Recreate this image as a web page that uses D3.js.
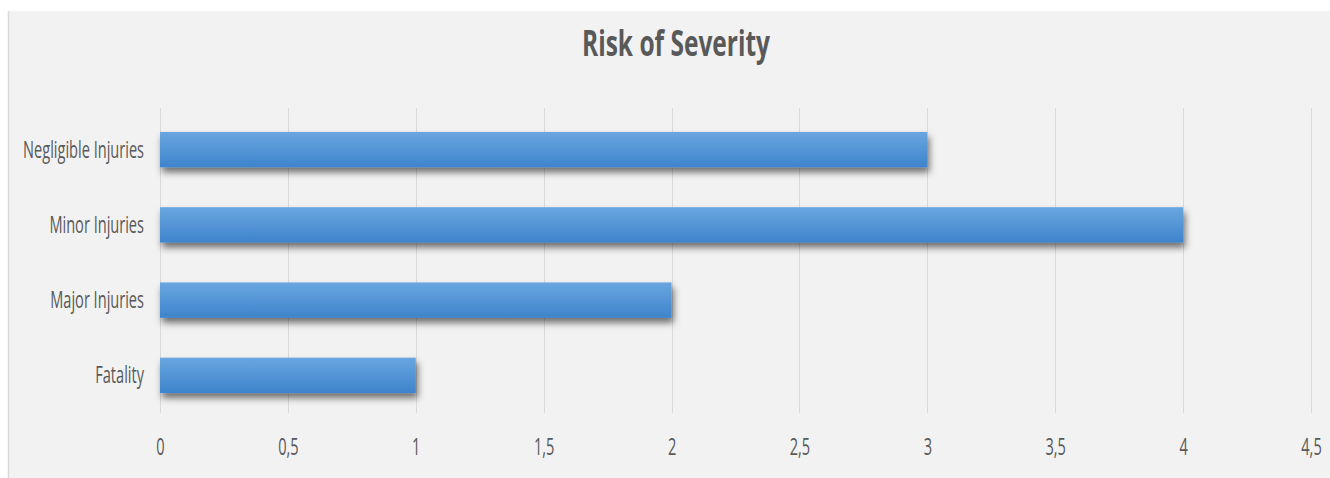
<!DOCTYPE html>
<html>
<head>
<meta charset="utf-8">
<script src="https://cdn.jsdelivr.net/npm/d3@7"></script>
<style>
  html, body { margin: 0; padding: 0; background: #ffffff; }
  svg { display: block; }
</style>
</head>
<body>
<svg id="chart" width="1330" height="478"></svg>
<script>
// ---- data ----
const categories = ["Negligible Injuries", "Minor Injuries", "Major Injuries", "Fatality"];
const values = [3, 4, 2, 1];
const tickValues = [0, 0.5, 1, 1.5, 2, 2.5, 3, 3.5, 4, 4.5];
const tickLabels = ["0", "0,5", "1", "1,5", "2", "2,5", "3", "3,5", "4", "4,5"];
const title = "Risk of Severity";

// ---- layout ----
const W = 1330, H = 478;
const plot = { left: 160, right: 1311, top: 112, bottom: 413 };
const gridTop = 108;
const textColor = "#595959";
const font = "'Open Sans', 'Liberation Sans', sans-serif";

const svg = d3.select("#chart");
const defs = svg.append("defs");

const grad = defs.append("linearGradient")
  .attr("id", "barGrad").attr("x1", 0).attr("y1", 0).attr("x2", 0).attr("y2", 1);
grad.append("stop").attr("offset", "0%").attr("stop-color", "#6aa6e0");
grad.append("stop").attr("offset", "100%").attr("stop-color", "#3e84cc");

const shadow = defs.append("filter").attr("id", "shadow")
  .attr("x", "-5%").attr("y", "-40%").attr("width", "115%").attr("height", "220%");
shadow.append("feDropShadow")
  .attr("dx", 2).attr("dy", 5).attr("stdDeviation", 3.5)
  .attr("flood-color", "#000").attr("flood-opacity", 0.55);

// panel
svg.append("rect")
  .attr("x", 9).attr("y", 11).attr("width", W - 9).attr("height", H - 11)
  .attr("fill", "#f2f2f2");
svg.append("line")
  .attr("x1", 8.5).attr("x2", 8.5).attr("y1", 11).attr("y2", H)
  .attr("stroke", "#dadada").attr("stroke-width", 1.5);

// scales
const x = d3.scaleLinear().domain([0, 4.5]).range([plot.left, plot.right]);
const y = d3.scaleBand().domain(categories)
  .range([plot.top, plot.bottom]).paddingInner(0.53).paddingOuter(0.265);

// gridlines
svg.append("g").selectAll("line").data(tickValues).join("line")
  .attr("x1", d => Math.round(x(d)) + 0.5).attr("x2", d => Math.round(x(d)) + 0.5)
  .attr("y1", gridTop).attr("y2", plot.bottom)
  .attr("stroke", "#d9d9d9").attr("stroke-width", 1);

// bars
svg.append("g").selectAll("rect").data(categories).join("rect")
  .attr("x", x(0))
  .attr("y", d => y(d))
  .attr("width", (d, i) => x(values[i]) - x(0))
  .attr("height", y.bandwidth())
  .attr("fill", "url(#barGrad)")
  .attr("filter", "url(#shadow)");

// measure compression factor from the widest label
const labelSize = 24;
const probe = svg.append("text").attr("font-family", font).attr("font-size", labelSize)
  .text(categories[0]);
const kLabel = 121 / probe.node().getComputedTextLength();
probe.remove();

// category axis labels
svg.append("g").selectAll("text").data(categories).join("text")
  .attr("text-anchor", "end")
  .attr("font-family", font).attr("font-size", labelSize)
  .attr("fill", textColor)
  .attr("transform", d => `translate(144,${y(d) + y.bandwidth() / 2 + 8}) scale(${kLabel},1)`)
  .text(d => d);

// value axis labels (via d3 axis, styled)
const xAxis = svg.append("g")
  .attr("transform", `translate(0,${plot.bottom})`)
  .call(d3.axisBottom(x).tickValues(tickValues)
    .tickFormat((d, i) => tickLabels[i]).tickSize(0).tickPadding(0));
xAxis.select(".domain").remove();
xAxis.selectAll("text")
  .attr("font-family", font).attr("font-size", labelSize)
  .attr("fill", textColor)
  .attr("dy", null).attr("y", 0)
  .attr("transform", `translate(0,42) scale(${kLabel},1)`);

// title
const tt = svg.append("text")
  .attr("font-family", font).attr("font-size", 35).attr("font-weight", 700)
  .attr("fill", textColor).attr("text-anchor", "middle")
  .text(title);
const kTitle = 188 / tt.node().getComputedTextLength();
tt.attr("transform", `translate(676,56) scale(${kTitle},1)`);
</script>
</body>
</html>
